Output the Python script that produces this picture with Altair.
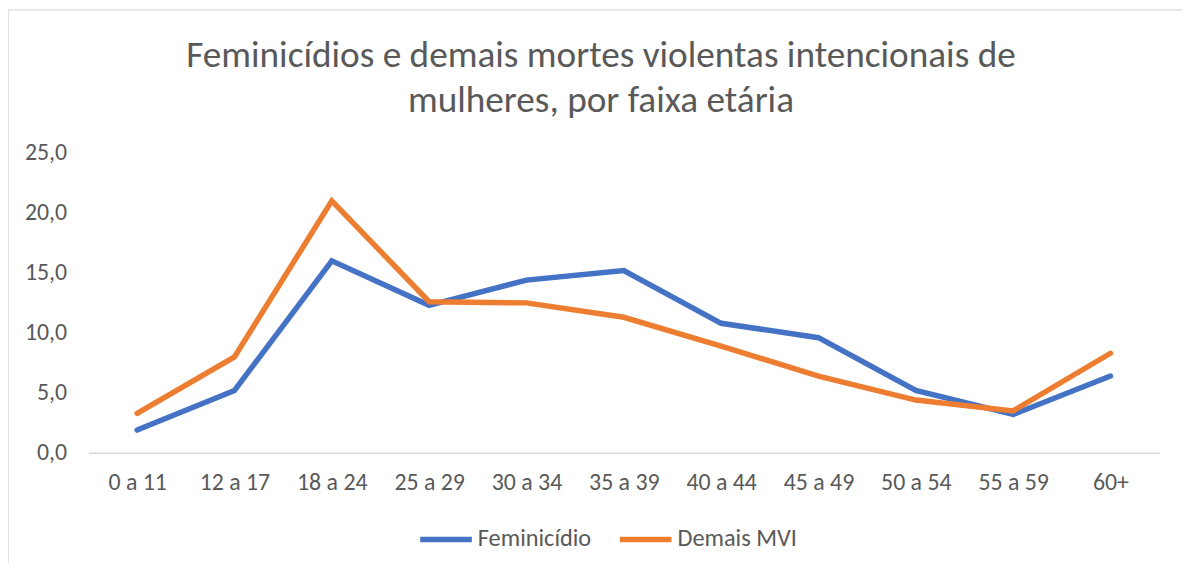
import altair as alt
import pandas as pd

categorias = ["0 a 11", "12 a 17", "18 a 24", "25 a 29", "30 a 34", "35 a 39",
              "40 a 44", "45 a 49", "50 a 54", "55 a 59", "60+"]
feminicidio = [1.9, 5.2, 16.0, 12.3, 14.4, 15.2, 10.8, 9.6, 5.2, 3.2, 6.4]
demais_mvi = [3.3, 8.0, 21.0, 12.6, 12.5, 11.3, 8.9, 6.4, 4.4, 3.5, 8.3]
series = ["Feminicídio", "Demais MVI"]
cores = ["#4472C4", "#ED7D31"]
y_ticks = [0, 5, 10, 15, 20, 25]
titulo = ["Feminicídios e demais mortes violentas intencionais de",
          "mulheres, por faixa etária"]

rows = []
for i, c in enumerate(categorias):
    rows.append({"faixa": c, "serie": series[0], "valor": feminicidio[i], "ordem": i})
    rows.append({"faixa": c, "serie": series[1], "valor": demais_mvi[i], "ordem": i})
df = pd.DataFrame(rows)

FONT = "Carlito, Calibri, Lato, sans-serif"
TXT = "#595959"
W, H = 1078, 302
LBL = 24

lines = alt.Chart(df).mark_line(strokeWidth=5.5, strokeCap="round").encode(
    x=alt.X("faixa:N", sort=categorias, title=None,
            scale=alt.Scale(type="point", padding=0.5),
            axis=alt.Axis(labelAngle=0, ticks=False, domainColor="#D9D9D9", domainWidth=1.5,
                          labelPadding=18, labelFontSize=LBL, labelColor=TXT, labelFont=FONT,
                          grid=False)),
    y=alt.Y("valor:Q", title=None, scale=alt.Scale(domain=[0, 25], nice=False),
            axis=alt.Axis(values=y_ticks, domain=False, ticks=False, grid=False,
                          labelExpr="replace(format(datum.value, '.1f'), '.', ',')",
                          labelPadding=22, labelFontSize=LBL, labelColor=TXT, labelFont=FONT)),
    color=alt.Color("serie:N", sort=series, scale=alt.Scale(domain=series, range=cores),
                    legend=alt.Legend(title=None, orient="none", direction="horizontal",
                                      legendX=331, legendY=360,
                                      symbolType="stroke", symbolSize=2700, symbolStrokeWidth=5.5,
                                      labelFontSize=24.5, labelColor=TXT, labelFont=FONT,
                                      labelOffset=3, columnPadding=17)),
    order="ordem:Q",
)

border = alt.Chart(pd.DataFrame({"k": [0]})).mark_rect(
    fill=None, stroke="#D9D9D9", strokeWidth=1.5
).encode(
    x=alt.value(-81), x2=alt.value(W + 300),
    y=alt.value(-144), y2=alt.value(H + 300),
)

title1 = alt.Chart(pd.DataFrame({"t": [titulo[0]]})).mark_text(
    font=FONT, fontSize=37.5, color=TXT, align="center", baseline="middle"
).encode(text="t:N", x=alt.value(516), y=alt.value(-97))
title2 = alt.Chart(pd.DataFrame({"t": [titulo[1]]})).mark_text(
    font=FONT, fontSize=37.5, color=TXT, align="center", baseline="middle"
).encode(text="t:N", x=alt.value(516), y=alt.value(-52))

chart = alt.layer(border, title1, title2, lines).properties(
    width=W, height=H,
    padding={"left": 81, "top": 144, "right": 23, "bottom": 109},
    autosize=alt.AutoSizeParams(type="none"),
).configure_view(stroke=None)

chart.save("out.html", embed_options={"renderer": "svg", "actions": False})
